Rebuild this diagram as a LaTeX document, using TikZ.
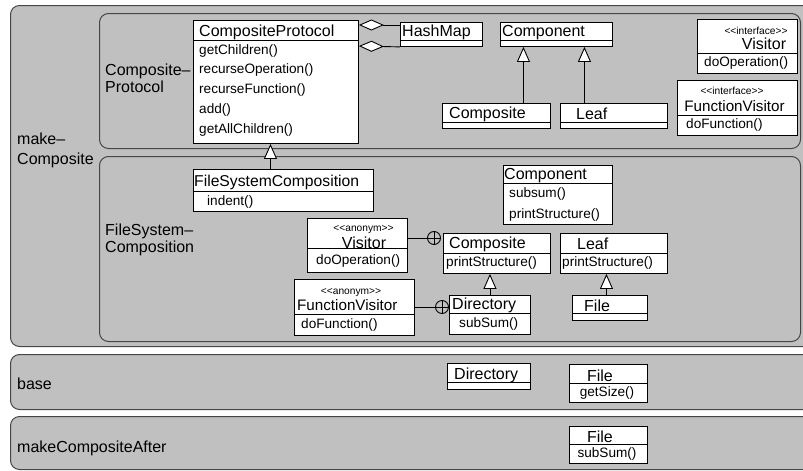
\documentclass[tikz,border=0pt]{standalone}
\usepackage{fontspec}
\setmainfont{Liberation Sans}
\newfontfamily\umlfont{Liberation Sans}
\usetikzlibrary{arrows.meta,calc}
\definecolor{pkgfill}{RGB}{192,192,192}
\definecolor{pkgline}{RGB}{70,70,70}

% class box: name, left, top, right, bottom, y of the name compartment rule
\newcommand\umlclass[6]{%
  \node[clsbox, minimum width={#4-#2}, minimum height={#5-#3}] (#1) at (#2,#3) {};
  \draw[clsrule] (#2,#6) -- (#4,#6);}

\tikzset{
  pkgbox/.style={draw=pkgline, line width=1pt, fill=pkgfill, rounded corners=9pt,
    inner sep=0pt, anchor=north west},
  clsbox/.style={draw=black, line width=0.9pt, fill=white, inner sep=0pt, anchor=north west},
  clsrule/.style={draw=black, line width=0.9pt},
  pkglabel/.style={inner sep=0pt, align=left, font=\umlfont\fontsize{16}{17}\selectfont},
  clsname/.style={inner sep=0pt, anchor=west, text height=11.7pt, text depth=0pt,
    font=\umlfont\fontsize{16}{18}\selectfont},
  clsop/.style={inner sep=0pt, anchor=west, text height=9.9pt, text depth=2.9pt,
    font=\umlfont\fontsize{13.6}{15}\selectfont},
  stereo/.style={inner sep=0pt, text height=7.3pt, text depth=0pt,
    font=\umlfont\fontsize{10.2}{12}\selectfont},
  inherit/.style={draw=black, line width=0.9pt, -{Triangle[fill=white, length=15pt, width=13pt]}},
  aggreg/.style={draw=black, line width=0.9pt, {Diamond[fill=white, length=25pt, width=11pt]}-},
  nestline/.style={draw=black, line width=0.9pt},
  nestmark/.style={circle, draw=black, line width=0.9pt, minimum size=13pt, inner sep=0pt,
    path picture={\draw[line width=0.8pt]
      (path picture bounding box.north) -- (path picture bounding box.south)
      (path picture bounding box.west) -- (path picture bounding box.east);}},
}

\begin{document}
\begin{tikzpicture}[x=1pt, y=-1pt]
\clip (0,0) rectangle (803,471);

% ---------- packages ----------
\node[pkgbox, minimum width=810, minimum height=341] (pmake) at (10,5) {};
\node[pkgbox, minimum width=701, minimum height=135] (pproto) at (99,13) {};
\node[pkgbox, minimum width=701, minimum height=185] (pfs) at (99,156) {};
\node[pkgbox, minimum width=810, minimum height=55] (pbase) at (10,354) {};
\node[pkgbox, minimum width=810, minimum height=53] (pafter) at (10,416) {};

\node[pkglabel, anchor=north west, font=\umlfont\fontsize{16}{19.5}\selectfont] (lmake) at (17,133) {make–\\Composite};
\node[pkglabel, anchor=north west] (lproto) at (105,63.5) {Composite–\\Protocol};
\node[pkglabel, anchor=north west] (lfs) at (105,224) {FileSystem–\\Composition};
\node[pkglabel, anchor=base west] (lbase) at (17,389.3) {base};
\node[pkglabel, anchor=base west] (lafter) at (17,452) {makeCompositeAfter};

% ---------- CompositeProtocol package ----------
\umlclass{cp}{193}{20}{358}{143}{40}
\node[clsname] (cpn) at (199,30.8) {CompositeProtocol};
\node[clsop] (cpo1) at (199,50.5) {getChildren()};
\node[clsop] (cpo2) at (199,70.3) {recurseOperation()};
\node[clsop] (cpo3) at (199,90.1) {recurseFunction()};
\node[clsop] (cpo4) at (199,109.9) {add()};
\node[clsop] (cpo5) at (199,129.7) {getAllChildren()};

\umlclass{hm}{400}{22}{482}{46}{40}
\node[clsname] (hmn) at (402,30.2) {HashMap};

\umlclass{cmpA}{500}{22}{612}{46}{40}
\node[clsname] (cmpAn) at (502,30.5) {Component};

\umlclass{cpsA}{442}{103}{550}{128}{122}
\node[clsname] (cpsAn) at (449,112.5) {Composite};

\umlclass{lfA}{560}{103}{667}{128}{122}
\node[clsname] (lfAn) at (576,113.5) {Leaf};

\umlclass{ivis}{697}{19}{797}{73}{53}
\node[stereo] (ivisS) at (756,31) {<<interface>>};
\node[clsname, anchor=center] (ivisn) at (764,43.8) {Visitor};
\node[clsop] (iviso) at (704,62.5) {doOperation()};

\umlclass{ifv}{677}{80}{797}{135}{115}
\node[stereo] (ifvS) at (732,90.5) {<<interface>>};
\node[clsname, anchor=center, font=\umlfont\fontsize{15.2}{18}\selectfont] (ifvn) at (734.5,105.8) {FunctionVisitor};
\node[clsop] (ifvo) at (686,125) {doFunction()};

\draw[aggreg] ([yshift=-5pt]cp.north east) -- ([yshift=-3pt]hm.north west);
\draw[aggreg] ([yshift=-26pt]cp.north east) -- (hm.south west);
\draw[inherit] ([xshift=27pt]cpsA.north) -- ([xshift=27pt]cpsA.north |- cmpA.south);
\draw[inherit] ([xshift=-29.5pt]lfA.north) -- ([xshift=-29.5pt]lfA.north |- cmpA.south);

% ---------- FileSystemComposition package ----------
\umlclass{fsc}{193}{169}{373}{211}{191}
\node[clsname, font=\umlfont\fontsize{15.7}{18}\selectfont] (fscn) at (194,180.5) {FileSystemComposition};
\node[clsop] (fsco) at (207,202) {indent()};

\umlclass{cmpB}{503}{165}{612}{224}{183}
\node[clsname] (cmpBn) at (504,173.8) {Component};
\node[clsop] (cmpBo1) at (509,193.8) {subsum()};
\node[clsop] (cmpBo2) at (509,214.5) {printStructure()};

\umlclass{cpsB}{443}{233}{550}{273}{253}
\node[clsname] (cpsBn) at (449,243) {Composite};
\node[clsop] (cpsBo) at (446,263) {printStructure()};

\umlclass{lfB}{560}{233}{667}{273}{253}
\node[clsname] (lfBn) at (577,243.5) {Leaf};
\node[clsop] (lfBo) at (562,263) {printStructure()};

\umlclass{dirB}{449}{295}{530}{334}{313}
\node[clsname] (dirBn) at (452,304) {Directory};
\node[clsop] (dirBo) at (459,324) {subSum()};

\umlclass{fileB}{572}{295}{647}{320}{313}
\node[clsname] (fileBn) at (584,305.8) {File};

\umlclass{avis}{307}{218}{407}{272}{248}
\node[stereo] (avisS) at (363.5,227.5) {<<anonym>>};
\node[clsname, anchor=center] (avisn) at (364,242.5) {Visitor};
\node[clsop] (aviso) at (316,261) {doOperation()};

\umlclass{afv}{294}{279}{414}{335}{314.5}
\node[stereo] (afvS) at (351,290.5) {<<anonym>>};
\node[clsname, font=\umlfont\fontsize{15.2}{18}\selectfont] (afvn) at (297,304.2) {FunctionVisitor};
\node[clsop] (afvo) at (301,324.5) {doFunction()};

\draw[inherit] ([xshift=-13pt]fsc.north) -- ([xshift=-13pt]fsc.north |- cp.south);
\draw[inherit] (dirB.north) -- (dirB.north |- cpsB.south);
\draw[inherit] ([xshift=-3.5pt]fileB.north) -- ([xshift=-3.5pt]fileB.north |- lfB.south);

\node[nestmark] (nestA) at ($(cpsB.north west)+(-9,5)$) {};
\node[nestmark] (nestB) at ($(dirB.north west)+(-7,12)$) {};
\draw[nestline] (avis.east |- nestA) -- (nestA.west);
\draw[nestline] (afv.east |- nestB) -- (nestB.west);

% ---------- base package ----------
\umlclass{dirC}{447}{363}{530}{389}{382}
\node[clsname] (dirCn) at (454,373.8) {Directory};

\umlclass{fileC}{569}{364}{647}{402}{383}
\node[clsname, anchor=center] (fileCn) at (600,376) {File};
\node[clsop, anchor=center] (fileCo) at (607,393) {getSize()};

% ---------- makeCompositeAfter package ----------
\umlclass{fileD}{569}{426}{647}{463}{444}
\node[clsname, anchor=center] (fileDn) at (600,436.7) {File};
\node[clsop, anchor=center] (fileDo) at (607,453.8) {subSum()};
\end{tikzpicture}
\end{document}
